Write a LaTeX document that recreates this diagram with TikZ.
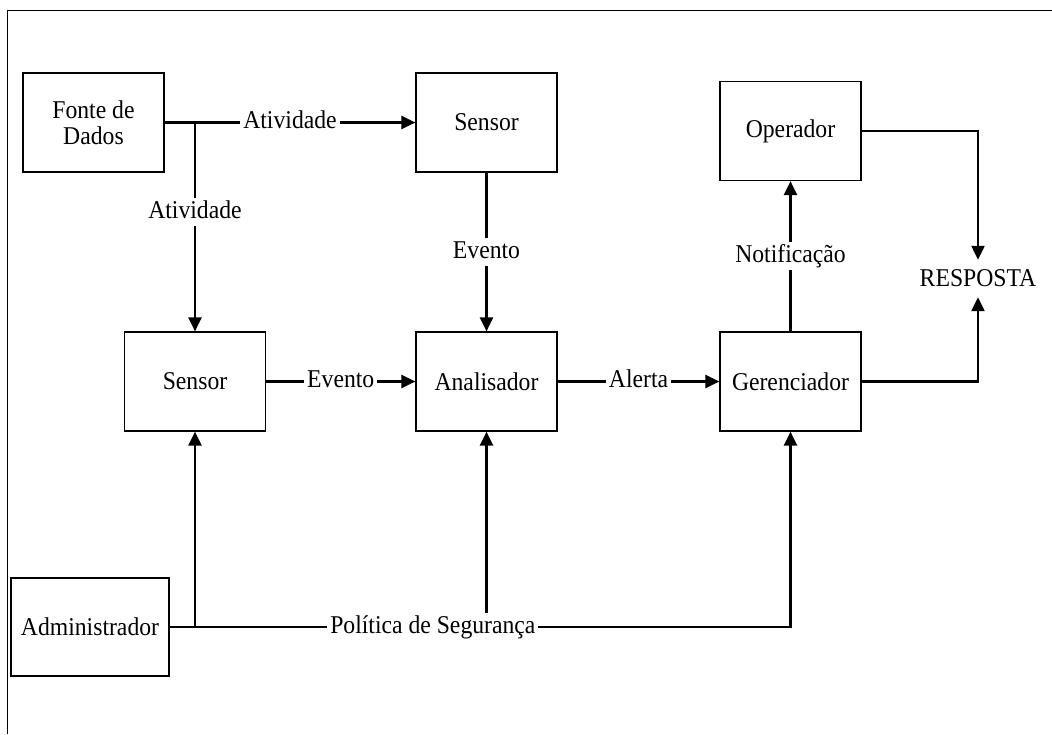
\documentclass[tikz,border=0pt]{standalone}
\usepackage{fontspec}
\setmainfont{Liberation Serif}[FakeStretch=0.925]
\usetikzlibrary{arrows.meta}
\begin{document}
\begin{tikzpicture}[x=1pt,y=-1pt,
  font=\fontsize{25.6}{26}\selectfont,
  block/.style={draw, line width=1.2pt, minimum width=141pt, minimum height=99pt,
                align=center, inner sep=0pt},
  wire/.style={line width=2.3pt},
  arr/.style={wire, -{Triangle[length=14pt,width=13pt]}},
  tag/.style={fill=white, inner sep=3pt, text height=17pt, text depth=5pt}]
\useasboundingbox (0,0) rectangle (1052,734);

% frame lines at the top and left
\draw[line width=1pt] (1052,10) -- (7,10) -- (7,734);

% blocks
\node[block] (src)   at (93.5,122.5) {Fonte de\\Dados};
\node[block] (sensA) at (486.5,122.5) {Sensor};
\node[block] (oper)  at (790.5,131)   {Operador};
\node[block] (sensB) at (195,381.5)   {Sensor};
\node[block] (anal)  at (486.5,381.5) {Analisador};
\node[block] (ger)   at (790.5,381.5) {Gerenciador};
\node[block, minimum width=158pt, minimum height=98pt] (adm) at (90,627) {Administrador};
\node[inner sep=0pt, minimum height=37pt] (resp) at (978,278.5) {RESPOSTA};

% data source to both sensors
\coordinate (split) at (src.east -| sensB.north);
\draw[arr] (src.east) -- node[tag] (lact1) {Atividade} (sensA.west);
\draw[arr] (split) -- node[tag, pos=0.43] (lact2) {Atividade} (sensB.north);

% events, alerts and notification
\draw[arr] (sensA.south) -- node[tag] (lev1) {Evento} (anal.north);
\draw[arr] (sensB.east) -- node[tag] (lev2) {Evento} (anal.west);
\draw[arr] (anal.east) -- node[tag] (lalert) {Alerta} (ger.west);
\draw[arr] (ger.north) -- node[tag] (lnot) {Notificação} (oper.south);

% response
\draw[arr] (oper.east) -| (resp.north);
\draw[arr] (ger.east) -| (resp.south);

% security policy from the administrator
\draw[arr] (adm.east -| sensB.south) -- (sensB.south);
\draw[arr] (adm.east -| anal.south) -- (anal.south);
\draw[arr] (adm.east) -| node[tag, pos=0.212] (lpol) {Política de Segurança} (ger.south);
\end{tikzpicture}
\end{document}
